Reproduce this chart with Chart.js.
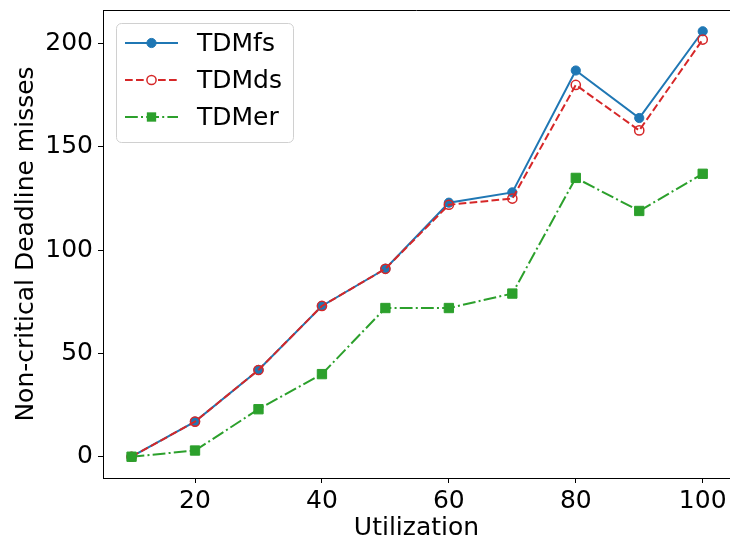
<!DOCTYPE html>
<html>
<head>
<meta charset="utf-8">
<script src="https://cdn.jsdelivr.net/npm/chart.js@4.4.0/dist/chart.umd.min.js"></script>
<style>
    html, body { margin: 0; padding: 0; background: #fff; overflow: hidden; }
    .wrap { width: 730px; height: 541px; }
</style>
</head>
<body>
<div class="wrap"><canvas id="missChart" width="730" height="541"></canvas></div>
<script>
const utilization = [10, 20, 30, 40, 50, 60, 70, 80, 90, 100]
const tdmFs = [0, 17, 42, 73, 91, 123, 128, 187, 164, 206]
const tdmDs = [0, 17, 42, 73, 91, 122, 125, 180, 158, 202]
const tdmEr = [0, 3, 23, 40, 72, 72, 79, 135, 119, 137]
const xTicks = [20, 40, 60, 80, 100]
const yTicks = [0, 50, 100, 150, 200]

const font = "'DejaVu Sans', sans-serif"
Chart.defaults.font.family = font
Chart.defaults.color = '#000'

function toPoints(values) {
    return utilization.map((u, i) => ({x: u, y: values[i]}))
}

// legend drawn inside the plot, top left, like matplotlib
const boxLegend = {
    id: 'boxLegend',
    afterDraw(chart) {
        const ctx = chart.ctx
        const area = chart.chartArea
        ctx.save()
        // top spine (the right one sits just past the window edge)
        ctx.strokeStyle = '#000'
        ctx.lineWidth = 1
        ctx.beginPath()
        ctx.moveTo(area.left, area.top + 0.5)
        ctx.lineTo(area.right, area.top + 0.5)
        ctx.stroke()

        const bx = 116, by = 23, bw = 177, bh = 119, r = 5
        ctx.beginPath()
        ctx.roundRect(bx + 0.5, by + 0.5, bw, bh, r)
        ctx.fillStyle = 'rgba(255,255,255,0.8)'
        ctx.fill()
        ctx.strokeStyle = '#d0d0d0'
        ctx.stroke()

        chart.data.datasets.forEach((ds, row) => {
            const cy = 43 + row * 37
            ctx.setLineDash(ds.borderDash || [])
            ctx.strokeStyle = ds.borderColor
            ctx.lineWidth = ds.borderWidth
            ctx.beginPath()
            ctx.moveTo(125, cy)
            ctx.lineTo(178, cy)
            ctx.stroke()
            ctx.setLineDash([])
            const mx = 151.5
            if (ds.pointStyle === 'rect') {
                const s = ds.pointRadius * Math.SQRT1_2
                ctx.fillStyle = ds.pointBackgroundColor
                ctx.fillRect(mx - s, cy - s, 2 * s, 2 * s)
            } else {
                ctx.beginPath()
                ctx.arc(mx, cy, ds.pointRadius, 0, Math.PI * 2)
                ctx.fillStyle = ds.pointBackgroundColor === 'rgba(0,0,0,0)' ? '#fff' : ds.pointBackgroundColor
                ctx.fill()
                ctx.lineWidth = ds.pointBorderWidth
                ctx.strokeStyle = ds.pointBorderColor
                ctx.stroke()
            }
            ctx.fillStyle = '#000'
            ctx.font = '25px ' + font
            ctx.textBaseline = 'middle'
            ctx.textAlign = 'left'
            ctx.fillText(ds.label, 197, cy + 1)
        })
        ctx.restore()
    }
}

const missChart = new Chart(document.getElementById('missChart'), {
    type: 'line',
    data: {
        datasets: [{
            label: 'TDMfs',
            data: toPoints(tdmFs),
            borderColor: '#1f77b4',
            borderWidth: 2,
            pointStyle: 'circle',
            pointRadius: 4.6,
            pointBackgroundColor: '#1f77b4',
            pointBorderColor: '#1f77b4',
            pointBorderWidth: 1,
            order: 2
        },
            {
                label: 'TDMds',
                data: toPoints(tdmDs),
                borderColor: '#d62728',
                borderWidth: 2,
                borderDash: [7.7, 3.3],
                pointStyle: 'circle',
                pointRadius: 4.6,
                pointBackgroundColor: 'rgba(0,0,0,0)',
                pointBorderColor: '#d62728',
                pointBorderWidth: 1.5,
                order: 1
            },
            {
                label: 'TDMer',
                data: toPoints(tdmEr),
                borderColor: '#2ca02c',
                borderWidth: 2,
                borderDash: [12.8, 3.2, 2, 3.2],
                pointStyle: 'rect',
                pointRadius: 6.6,
                pointBackgroundColor: '#2ca02c',
                pointBorderColor: '#2ca02c',
                pointBorderWidth: 1,
                order: 0
            }]
    },
    options: {
        responsive: false,
        animation: false,
        devicePixelRatio: 1,
        layout: {autoPadding: false, padding: {top: 10, right: 0, left: 0, bottom: 0}},
        plugins: {legend: {display: false}, tooltip: {enabled: false}},
        scales: {
            x: {
                type: 'linear',
                min: 5.5,
                max: 104.3,
                afterBuildTicks: s => { s.ticks = xTicks.map(v => ({value: v})) },
                afterFit: s => {
                    s.height = 63
                    s.paddingLeft = 0
                    s.paddingRight = 0
                },
                grid: {drawOnChartArea: false, tickLength: 5, tickColor: '#000', tickWidth: 1},
                border: {display: true, color: '#000', width: 1},
                ticks: {font: {size: 25}, padding: 3, maxRotation: 0},
                title: {display: true, text: 'Utilization', font: {size: 25}, padding: {top: 0, bottom: -2}}
            },
            y: {
                type: 'linear',
                min: -10.3,
                max: 216.3,
                afterBuildTicks: s => { s.ticks = yTicks.map(v => ({value: v})) },
                afterFit: s => {
                    s.width = 103
                    s.paddingTop = 0
                    s.paddingBottom = 0
                },
                grid: {drawOnChartArea: false, tickLength: 5, tickColor: '#000', tickWidth: 1},
                border: {display: true, color: '#000', width: 1},
                ticks: {font: {size: 25}, padding: 5},
                title: {display: true, text: 'Non-critical Deadline misses', font: {size: 25}, padding: {top: 11, bottom: 0}}
            }
        }
    },
    plugins: [boxLegend]
})
</script>
</body>
</html>
